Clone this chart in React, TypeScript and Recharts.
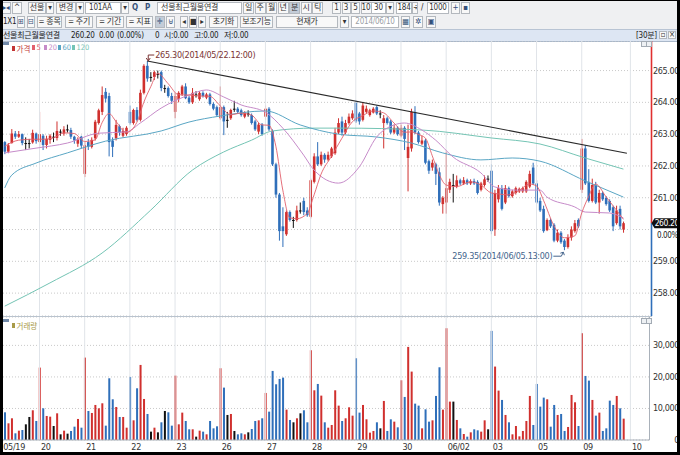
import React from "react";
import {
  Bar,
  CartesianGrid,
  ComposedChart,
  Line,
  ReferenceDot,
  ReferenceLine,
  XAxis,
  YAxis,
} from "recharts";

const UP = "#d0302e";
const DOWN = "#2f6fba";
const FLAT = "#111111";
const UI_FONT =
  "'Liberation Sans Narrow','DejaVu Sans Condensed','Liberation Sans','Noto Sans CJK KR',sans-serif";

// 30-minute bars, [open, high, low, close], one array per trading day
const D0519 = [
  [262.75, 262.78, 262.37, 262.45], [262.45, 262.72, 262.4, 262.65], [262.72, 263.16, 262.7, 263.02],
  [263.02, 263.1, 262.85, 262.92], [262.92, 263.1, 262.88, 263.0], [263.0, 263.02, 262.65, 262.72],
  [262.72, 262.9, 262.5, 262.72], [262.72, 262.85, 262.55, 262.72], [262.74, 263.14, 262.7, 263.04],
  [263.02, 263.05, 262.7, 262.78],
];
const D0520 = [
  [262.75, 263.7, 262.6, 263.0], [262.95, 263.0, 262.5, 262.66], [262.66, 262.95, 262.55, 262.85],
  [262.82, 263.0, 262.7, 262.95], [262.92, 263.05, 262.75, 262.92], [262.88, 263.4, 262.8, 263.1],
  [263.08, 263.15, 262.95, 263.08], [263.02, 263.25, 262.95, 263.15], [263.15, 263.3, 263.05, 263.15],
  [263.13, 263.2, 262.85, 262.92], [262.92, 262.95, 262.7, 262.8], [262.7, 262.9, 262.6, 262.85],
  [262.92, 262.95, 262.55, 262.64],
];
const D0521 = [
  [261.75, 262.75, 261.65, 262.65], [262.75, 262.85, 262.5, 262.6], [262.6, 262.9, 262.55, 262.82],
  [262.87, 263.45, 262.8, 263.39], [263.35, 263.8, 263.3, 263.75], [263.7, 264.5, 263.6, 264.23],
  [264.33, 264.45, 264.0, 264.12], [264.2, 264.3, 262.3, 262.75], [262.8, 262.9, 262.28, 262.6],
  [262.87, 263.45, 262.8, 263.29], [263.25, 263.3, 262.95, 263.05], [262.95, 263.2, 262.9, 263.1],
  [263.0, 263.25, 262.95, 263.2],
];
const D0522 = [
  [263.7, 263.9, 263.3, 263.35], [263.35, 263.8, 263.3, 263.76], [263.76, 263.85, 263.4, 263.45],
  [263.45, 264.4, 263.4, 264.3], [264.3, 265.2, 264.25, 265.15], [265.15, 265.3, 264.65, 264.75],
  [264.8, 264.95, 264.65, 264.8], [264.8, 265.0, 264.7, 264.95], [264.9, 265.0, 264.75, 264.9],
  [264.95, 265.0, 264.35, 264.45], [264.45, 264.55, 264.3, 264.45], [264.45, 264.5, 264.15, 264.2],
  [264.2, 264.3, 263.95, 264.05],
];
const D0523 = [
  [263.7, 264.3, 263.5, 264.2], [264.1, 264.35, 264.0, 264.3], [264.25, 264.55, 264.2, 264.5],
  [264.5, 264.6, 264.1, 264.13], [264.15, 264.2, 263.95, 264.0], [264.0, 264.45, 263.95, 264.3],
  [264.25, 264.35, 264.15, 264.25], [264.1, 264.35, 264.05, 264.3], [264.3, 264.35, 264.15, 264.2],
  [264.15, 264.3, 264.1, 264.25], [264.25, 264.3, 263.9, 263.95], [263.95, 264.0, 263.75, 263.8],
  [263.85, 263.9, 263.55, 263.6],
];
const D0526 = [
  [263.5, 264.5, 263.45, 263.85], [263.85, 263.9, 262.97, 263.4], [263.45, 263.7, 263.2, 263.45],
  [263.5, 263.8, 263.45, 263.76], [263.8, 264.05, 263.7, 263.8], [263.8, 263.85, 263.65, 263.7],
  [263.75, 263.8, 263.55, 263.6], [263.55, 263.72, 263.5, 263.68], [263.65, 263.75, 263.55, 263.65],
  [263.6, 263.65, 263.3, 263.35], [263.4, 263.45, 263.1, 263.15], [263.08, 263.35, 263.0, 263.3],
  [263.3, 263.35, 262.95, 263.0],
];
const D0527 = [
  [263.55, 263.9, 263.45, 263.8], [263.8, 263.85, 263.1, 263.15], [263.1, 263.15, 262.0, 262.05],
  [262.05, 262.1, 261.0, 261.1], [261.1, 261.15, 259.65, 259.95], [260.1, 260.7, 259.45, 259.95],
  [259.85, 260.6, 259.8, 260.55], [260.55, 260.6, 260.25, 260.3], [260.3, 260.4, 260.05, 260.3],
  [260.3, 260.75, 260.25, 260.6], [260.6, 260.85, 260.5, 260.6], [260.9, 261.0, 260.45, 260.55],
  [260.6, 260.7, 260.4, 260.45],
];
const D0528 = [
  [260.4, 261.6, 260.35, 261.55], [261.5, 262.4, 261.45, 262.3], [262.3, 262.75, 262.0, 262.05],
  [262.05, 262.45, 262.0, 262.35], [262.35, 262.4, 262.1, 262.2], [262.2, 262.45, 262.15, 262.35],
  [262.3, 262.6, 262.25, 262.55], [262.4, 263.2, 262.35, 263.05], [263.05, 263.5, 263.0, 263.35],
  [263.4, 263.55, 262.95, 263.05], [263.05, 263.45, 263.0, 263.35], [263.35, 263.65, 263.3, 263.55],
  [263.5, 263.75, 263.45, 263.65],
];
const D0529 = [
  [263.98, 264.05, 263.35, 263.4], [263.65, 263.7, 263.3, 263.4], [263.45, 264.0, 263.4, 263.9],
  [263.7, 263.9, 263.65, 263.8], [263.6, 263.8, 263.55, 263.75], [263.68, 263.85, 263.65, 263.8],
  [263.85, 263.9, 263.6, 263.65], [263.65, 263.75, 263.5, 263.65], [263.35, 263.6, 262.55, 263.5],
  [263.5, 263.55, 263.3, 263.35], [263.4, 263.45, 263.0, 263.05], [263.05, 263.3, 263.0, 263.2],
  [263.2, 263.25, 262.95, 263.0],
];
const D0530 = [
  [262.95, 263.3, 262.9, 263.2], [263.2, 263.25, 262.5, 262.85], [262.25, 263.3, 261.2, 262.6],
  [262.55, 263.8, 262.45, 263.7], [263.7, 263.88, 263.0, 263.05], [263.05, 263.1, 262.7, 262.75],
  [262.7, 262.95, 262.65, 262.8], [262.8, 262.85, 262.05, 262.1], [262.15, 262.2, 261.75, 261.85],
  [261.95, 262.2, 261.85, 262.1], [262.05, 262.1, 261.4, 261.75], [261.8, 261.95, 260.75, 260.85],
  [260.8, 261.05, 260.5, 261.0],
];
const D0602 = [
  [260.85, 262.45, 260.5, 261.3], [261.25, 261.6, 261.15, 261.5], [261.4, 261.75, 260.85, 261.4],
  [261.35, 261.7, 261.3, 261.55], [261.55, 261.6, 261.4, 261.45], [261.45, 261.65, 261.4, 261.55],
  [261.55, 261.6, 261.4, 261.45], [261.45, 261.58, 261.4, 261.52], [261.52, 261.6, 261.4, 261.45],
  [261.5, 261.55, 261.1, 261.15], [261.25, 261.5, 261.2, 261.45], [261.4, 261.7, 261.35, 261.58],
  [261.6, 261.7, 261.5, 261.6],
];
const D0603 = [
  [261.85, 262.05, 259.85, 259.95], [260.0, 261.25, 259.8, 261.15], [260.95, 261.4, 260.85, 261.3],
  [261.3, 261.4, 260.6, 260.65], [260.85, 261.4, 260.8, 261.3], [261.3, 261.35, 261.0, 261.05],
  [261.05, 261.25, 261.0, 261.2], [261.15, 261.35, 261.1, 261.3], [261.2, 261.32, 261.15, 261.28],
  [261.2, 261.35, 261.15, 261.3], [261.2, 261.55, 261.15, 261.5], [261.35, 261.85, 261.3, 261.75],
  [261.95, 262.1, 261.4, 261.45],
];
const D0605 = [
  [261.45, 261.55, 260.8, 260.85], [260.9, 261.0, 260.55, 260.6], [260.65, 260.75, 259.9, 259.95],
  [259.98, 260.35, 259.95, 260.3], [260.3, 260.35, 260.05, 260.1], [260.15, 260.2, 259.6, 259.65],
  [259.65, 260.0, 259.6, 259.9], [259.9, 259.95, 259.55, 259.6], [259.65, 259.7, 259.35, 259.45],
  [259.45, 259.85, 259.4, 259.75], [259.75, 260.1, 259.65, 260.0], [259.95, 260.3, 259.9, 260.2],
  [260.3, 260.35, 260.05, 260.1],
];
const D0609 = [
  [261.25, 262.85, 261.15, 262.55], [262.55, 262.65, 261.4, 261.45], [261.5, 261.9, 260.85, 260.9],
  [260.9, 261.6, 260.85, 261.4], [261.4, 261.5, 260.8, 260.85], [260.85, 261.25, 260.5, 261.15],
  [261.15, 261.2, 260.9, 260.95], [261.0, 261.05, 260.75, 260.8], [260.9, 260.95, 260.55, 260.6],
  [260.7, 260.75, 259.95, 260.1], [260.2, 260.75, 260.15, 260.6], [260.65, 260.75, 260.0, 260.1],
  [260.0, 260.25, 259.9, 260.2],
];

// contracts per bar
const V0519 = [8780, 5290, 6880, 2120, 2960, 3170, 4970, 7300, 9420, 6030];
const V0520 = [22960, 10050, 7620, 7400, 4440, 8460, 1800, 2960, 2010, 2860, 4230, 6670, 3910];
const V0521 = [26130, 9200, 8570, 11110, 10050, 11640, 4550, 19570, 12910, 10470, 7300, 7300, 3910];
const V0522 = [20000, 6240, 16400, 23800, 13010, 8250, 2650, 3910, 2430, 5610, 9200, 8780, 4550];
const V0523 = [20420, 4970, 8680, 6030, 3390, 3390, 1060, 2960, 2650, 1800, 6030, 3700, 4340];
const V0526 = [22750, 16610, 7940, 8250, 2860, 1800, 2120, 1800, 2430, 3490, 6030, 6240, 6880];
const V0527 = [14920, 8990, 21900, 17670, 19360, 19780, 9630, 6350, 5610, 6880, 8460, 9420, 5610];
const V0528 = [28460, 15760, 17770, 14070, 5610, 3910, 4760, 15760, 10900, 6030, 6880, 10370, 7720];
const V0529 = [25920, 8680, 11110, 6560, 2330, 2860, 5610, 3700, 12380, 2860, 6560, 5820, 4020];
const V0530 = [18940, 13650, 29520, 21690, 11530, 10900, 3700, 9730, 5820, 6240, 13970, 23060, 9630];
const V0602 = [35440, 12170, 12170, 6350, 3700, 1900, 1060, 2430, 3390, 3070, 2650, 6240, 3390];
const V0603 = [34600, 23280, 15660, 12700, 7940, 5610, 1800, 4440, 1160, 2860, 6030, 13970, 4760];
const V0605 = [17770, 10580, 13440, 12910, 4230, 11110, 7940, 8250, 2860, 4130, 14280, 11960, 4440];
const V0609 = [33860, 20310, 18830, 12700, 7720, 8680, 2860, 3700, 12480, 11110, 13970, 10050, 6770];

// moving averages, [bar index, value]
const MA5 = [
  [0, 262.62], [4, 262.81], [8, 262.84], [11, 262.84], [14, 262.88], [17, 263.04], [20, 263.02],
  [23, 262.77], [26, 262.82], [28, 263.36], [30, 263.65], [32, 263.4], [35, 263.05], [38, 263.37],
  [40, 264.0], [42, 264.49], [44, 264.91], [47, 264.59], [50, 264.24], [53, 264.23], [56, 264.2],
  [59, 264.19], [62, 263.89], [65, 263.61], [68, 263.66], [71, 263.6], [74, 263.29], [76, 263.28],
  [78, 262.62], [80, 261.24], [82, 260.37], [84, 260.34], [87, 260.5], [89, 261.09], [91, 261.74],
  [94, 262.3], [97, 262.87], [100, 263.39], [103, 263.58], [106, 263.73], [109, 263.67],
  [112, 263.35], [115, 263.06], [117, 263.07], [119, 262.99], [121, 262.88], [123, 262.32],
  [125, 261.73], [127, 261.4], [130, 261.35], [134, 261.5], [137, 261.4], [140, 261.15],
  [142, 261.12], [145, 261.09], [148, 261.23], [151, 261.43], [153, 261.37], [155, 260.92],
  [158, 260.12], [161, 259.74], [164, 259.8], [166, 260.52], [168, 261.04], [170, 261.43],
  [173, 261.03], [176, 260.61], [178, 260.32],
];
const MA20 = [
  [0, 262.41], [9, 262.56], [18, 262.72], [27, 263.03], [35, 263.07], [39, 263.35], [45, 263.82],
  [53, 264.23], [58, 264.39], [63, 264.17], [68, 263.92], [75, 263.69], [80, 263.19], [86, 262.34],
  [89, 261.87], [96, 261.46], [102, 261.97], [107, 262.91], [112, 263.29], [115, 263.35],
  [120, 263.13], [124, 262.81], [129, 262.28], [137, 261.78], [141, 261.34], [147, 261.24],
  [154, 261.24], [156, 261.02], [164, 260.71], [167, 260.55], [174, 260.52], [178, 260.36],
];
const MA60 = [
  [0, 261.31], [2, 261.71], [9, 262.09], [18, 262.41], [29, 262.78], [45, 263.1], [53, 263.38],
  [62, 263.57], [75, 263.73], [85, 263.29], [96, 263.0], [107, 262.91], [117, 262.72],
  [126, 262.41], [137, 262.19], [146, 262.25], [154, 262.15], [167, 261.53], [178, 261.02],
];
const MA120 = [
  [0, 257.59], [13, 258.32], [28, 259.26], [42, 260.61], [54, 261.87], [63, 262.44], [71, 262.81],
  [77, 263.1], [89, 263.19], [97, 263.19], [120, 263.13], [140, 262.88], [154, 262.69],
  [167, 262.25], [178, 261.9],
];

const DAY_STARTS = [0, 10, 23, 36, 49, 62, 75, 88, 101, 114, 127, 140, 153, 166, 180];
const DAY_LABELS = ["05/19", "20", "21", "22", "23", "26", "27", "28", "29", "30", "06/02", "03", "05", "09", "10"];
const PRICE_TICKS = [258, 259, 260, 261, 262, 263, 264, 265];
const VOLUME_TICKS = [0, 10000, 20000, 30000];
const PRICE_DOMAIN: [number, number] = [257.28, 265.93];
const VOLUME_DOMAIN: [number, number] = [0, 39000];
const CURRENT = 260.2;
const HIGH_MARK = { i: 41, price: 265.3, text: "265.30(2014/05/22.12:00)" };
const LOW_MARK = { i: 161, price: 259.35, text: "259.35(2014/06/05.13:00)" };
const TREND = [
  { x: 41, y: 265.3 },
  { x: 179, y: 262.4 },
];

const MA_COLORS = { ma5: "#e2606c", ma20: "#c68bc9", ma60: "#5aa6c4", ma120: "#74c4b4" };
const SLOTS = 186;
const PRICE_H = 275;

const CANDLES = [
  ...D0519, ...D0520, ...D0521, ...D0522, ...D0523, ...D0526, ...D0527,
  ...D0528, ...D0529, ...D0530, ...D0602, ...D0603, ...D0605, ...D0609,
];
const VOLUMES = [
  ...V0519, ...V0520, ...V0521, ...V0522, ...V0523, ...V0526, ...V0527,
  ...V0528, ...V0529, ...V0530, ...V0602, ...V0603, ...V0605, ...V0609,
];

function lookup(pairs: number[][]) {
  const m = new Map(pairs.map(([i, v]) => [i, v]));
  return (i: number) => (m.has(i) ? (m.get(i) as number) : null);
}
const ma5 = lookup(MA5);
const ma20 = lookup(MA20);
const ma60 = lookup(MA60);
const ma120 = lookup(MA120);

const ROWS = Array.from({ length: SLOTS }, (_, i) => {
  const k = CANDLES[i];
  return {
    i,
    o: k ? k[0] : null,
    h: k ? k[1] : null,
    l: k ? k[2] : null,
    c: k ? k[3] : null,
    range: k ? [k[2], k[1]] : null,
    vol: VOLUMES[i] ?? null,
    ma5: ma5(i),
    ma20: ma20(i),
    ma60: ma60(i),
    ma120: ma120(i),
  };
});

const tone = (o: number, c: number) => (c > o ? UP : c < o ? DOWN : FLAT);

function Candle(props: any) {
  const { x, y, width, height, payload } = props;
  if (!payload || payload.o == null || !Number.isFinite(y)) return null;
  const { o, h, l, c } = payload;
  const top = Math.min(y, y + height);
  const span = Math.abs(height);
  const toY = (p: number) => top + ((h - p) / (h - l)) * span;
  const color = tone(o, c);
  const cx = x + width / 2;
  const bodyTop = toY(Math.max(o, c));
  const bodyH = Math.max(1, toY(Math.min(o, c)) - bodyTop);
  return (
    <g>
      <line x1={cx} x2={cx} y1={top} y2={top + span} stroke={color} strokeWidth={1} />
      <rect x={cx - 1.3} y={bodyTop} width={2.6} height={bodyH} fill={color} />
    </g>
  );
}

function VolumeBar(props: any) {
  const { x, y, width, height, payload } = props;
  if (!payload || payload.vol == null || !Number.isFinite(y)) return null;
  return <rect x={x} y={y} width={width} height={height} fill={tone(payload.o, payload.c)} />;
}

// the current-price flag covers the nearest price label, as in the original
function PriceTick({ y, payload }: any) {
  if (Math.abs(payload.value - CURRENT) < 0.5) return null;
  return (
    <text x={679} y={y + 3} textAnchor="end" fontSize={9} letterSpacing={-0.4} fill="#333" fontFamily={UI_FONT}>
      {payload.value.toFixed(2)}
    </text>
  );
}

function VolumeTick({ y, payload }: any) {
  return (
    <text x={679} y={y + 3} textAnchor="end" fontSize={9} letterSpacing={-0.4} fill="#333" fontFamily={UI_FONT}>
      {payload.value.toLocaleString("en-US")}
    </text>
  );
}

function DayTick({ x, y, payload }: any) {
  const idx = DAY_STARTS.indexOf(payload.value);
  return (
    <text x={x + (idx === 0 ? -1.5 : 1.5)} y={y + 10} fontSize={9} letterSpacing={-0.3} fill="#333" fontFamily={UI_FONT}>
      {DAY_LABELS[idx]}
    </text>
  );
}

function CurrentPrice({ viewBox }: any) {
  if (!viewBox) return null;
  const { x, y, width } = viewBox;
  const ax = x + width + 2;
  return (
    <g fontFamily={UI_FONT} letterSpacing={-0.4}>
      <line x1={ax} x2={ax} y1={0} y2={y} stroke="#e03030" strokeWidth={1.6} />
      <line x1={ax} x2={ax} y1={y} y2={PRICE_H} stroke={DOWN} strokeWidth={1.6} />
      <path d={`M${ax},${y} L${ax + 3},${y - 5} H680 V${y + 5} H${ax + 3} Z`} fill="#111" />
      <text x={679} y={y + 3.2} textAnchor="end" fontSize={8.5} fill="#fff">
        {CURRENT.toFixed(2)}
      </text>
      <text x={657} y={y + 14.5} fontSize={8} fill="#222">
        0.00%
      </text>
    </g>
  );
}

function HighNote({ cx, cy }: any) {
  const col = "#7a3434";
  return (
    <g fontFamily={UI_FONT} fontSize={9} letterSpacing={-0.3}>
      <path d={`M${cx + 7},${cy - 6} H${cx + 1} V${cy - 1}`} stroke={col} fill="none" />
      <path d={`M${cx - 1},${cy - 3} L${cx + 1},${cy} L${cx + 3},${cy - 3}`} stroke={col} fill="none" />
      <text x={cx + 8} y={cy - 3} fill={col}>
        {HIGH_MARK.text}
      </text>
    </g>
  );
}

function LowNote({ cx, cy }: any) {
  const col = "#44648c";
  return (
    <g fontFamily={UI_FONT} fontSize={9} letterSpacing={-0.3}>
      <path d={`M${cx - 11},${cy + 6} H${cx - 3} L${cx - 1},${cy + 2}`} stroke={col} fill="none" />
      <path d={`M${cx - 4},${cy + 3} L${cx - 1},${cy + 2} L${cx},${cy + 5}`} stroke={col} fill="none" />
      <text x={cx - 12} y={cy + 9} textAnchor="end" fill={col}>
        {LOW_MARK.text}
      </text>
    </g>
  );
}

function PricePane() {
  return (
    <ComposedChart width={680} height={PRICE_H} data={ROWS} margin={{ top: 0, right: 0, bottom: 0, left: 3 }}>
      <XAxis dataKey="i" type="category" hide />
      <YAxis
        orientation="right"
        type="number"
        width={30.5}
        domain={PRICE_DOMAIN}
        allowDataOverflow
        ticks={PRICE_TICKS}
        tick={<PriceTick />}
        axisLine={false}
        tickLine={false}
      />
      <CartesianGrid vertical={false} stroke="#c9c9c9" strokeDasharray="1 2" />
      {DAY_STARTS.slice(1).map((d) => (
        <ReferenceLine key={d} x={d} stroke="#e0e4e9" />
      ))}
      <Line dataKey="ma120" type="monotone" stroke={MA_COLORS.ma120} dot={false} activeDot={false} connectNulls isAnimationActive={false} />
      <Line dataKey="ma60" type="monotone" stroke={MA_COLORS.ma60} dot={false} activeDot={false} connectNulls isAnimationActive={false} />
      <Line dataKey="ma20" type="monotone" stroke={MA_COLORS.ma20} dot={false} activeDot={false} connectNulls isAnimationActive={false} />
      <Bar dataKey="range" shape={<Candle />} isAnimationActive={false} />
      <Line dataKey="ma5" type="monotone" stroke={MA_COLORS.ma5} strokeWidth={0.9} dot={false} activeDot={false} connectNulls isAnimationActive={false} />
      <ReferenceLine segment={TREND} stroke="#2a2a2a" strokeWidth={1.2} ifOverflow="visible" />
      <ReferenceLine y={CURRENT} stroke="none" label={<CurrentPrice />} />
      <ReferenceDot x={HIGH_MARK.i} y={HIGH_MARK.price} r={0} shape={<HighNote />} />
      <ReferenceDot x={LOW_MARK.i} y={LOW_MARK.price} r={0} shape={<LowNote />} />
    </ComposedChart>
  );
}

function VolumePane() {
  return (
    <ComposedChart width={680} height={135} data={ROWS} margin={{ top: 0, right: 0, bottom: 0, left: 3 }}>
      <XAxis
        dataKey="i"
        type="category"
        height={12}
        ticks={DAY_STARTS}
        interval={0}
        tick={<DayTick />}
        tickSize={0}
        tickMargin={0}
        tickLine={false}
        axisLine={{ stroke: "#a9b1ba" }}
      />
      <YAxis
        orientation="right"
        type="number"
        width={30.5}
        domain={VOLUME_DOMAIN}
        allowDataOverflow
        ticks={VOLUME_TICKS}
        tick={<VolumeTick />}
        axisLine={{ stroke: "#a9b1ba" }}
        tickLine={false}
      />
      <CartesianGrid vertical={false} stroke="#c9c9c9" strokeDasharray="1 2" />
      {DAY_STARTS.slice(1).map((d) => (
        <ReferenceLine key={d} x={d} stroke="#e0e4e9" />
      ))}
      <Bar dataKey="vol" barSize={2} shape={<VolumeBar />} isAnimationActive={false} />
    </ComposedChart>
  );
}

function Btn({ x, y, w, h = 12, children, bg = "#f8f8f8", color = "#333", left = false, border = "#b3b8be" }: any) {
  return (
    <div
      style={{
        position: "absolute",
        left: x,
        top: y,
        width: w,
        height: h,
        boxSizing: "border-box",
        border: `1px solid ${border}`,
        background: bg,
        color,
        fontSize: 8,
        letterSpacing: -0.2,
        lineHeight: `${h - 2}px`,
        textAlign: left ? "left" : "center",
        paddingLeft: left ? 3 : 0,
        whiteSpace: "nowrap",
        overflow: "hidden",
      }}
    >
      {children}
    </div>
  );
}

function Txt({ x, y, children, color = "#222", size = 8, bold = false }: any) {
  return (
    <div
      style={{
        position: "absolute",
        left: x,
        top: y,
        fontSize: size,
        letterSpacing: -0.25,
        color,
        fontWeight: bold ? 700 : 400,
        whiteSpace: "nowrap",
        lineHeight: "11px",
      }}
    >
      {children}
    </div>
  );
}

function Toolbar() {
  const periods = ["일", "주", "월", "년", "분", "시", "틱"];
  const mins = ["1", "3", "5", "10"];
  return (
    <>
      <div style={{ position: "absolute", left: 0, top: 0, width: 680, height: 29, background: "#eff0f2" }} />
      <Btn x={1} y={2} w={10} color="#35507a">▸◂</Btn>
      <Btn x={12} y={2} w={10}>^</Btn>
      <Btn x={28} y={2} w={18}>선물</Btn>
      <Btn x={46} y={2} w={8}>▾</Btn>
      <Btn x={56} y={2} w={20}>변경</Btn>
      <Btn x={76} y={2} w={8}>▾</Btn>
      <Btn x={85} y={2} w={36} bg="#fff" left>101AA</Btn>
      <Btn x={121} y={2} w={8}>▾</Btn>
      <Txt x={132} y={2} bold color="#35507a">Q</Txt>
      <Txt x={145} y={2} bold color="#35507a">P</Txt>
      <Btn x={157} y={2} w={85} bg="#fff" left>선물최근월물연결</Btn>
      {periods.map((p, k) => (
        <Btn key={p} x={243 + k * 11.5} y={2} w={11} bg={p === "분" ? "#c3ccd8" : "#f8f8f8"}>
          {p}
        </Btn>
      ))}
      {mins.map((m, k) => (
        <Btn key={m} x={332 + k * 9.5} y={2} w={m === "10" ? 11 : 9}>
          {m}
        </Btn>
      ))}
      <Btn x={371} y={2} w={15} bg="#fff">30</Btn>
      <Btn x={386} y={2} w={8}>▾</Btn>
      <Btn x={396} y={2} w={16} bg="#fff">184</Btn>
      <Btn x={412} y={2} w={6}>÷</Btn>
      <Txt x={421} y={2}>/</Txt>
      <Btn x={427} y={2} w={22} bg="#fff">1000</Btn>
      <Btn x={451} y={2} w={9} color="#35507a">+</Btn>
      <Btn x={461} y={2} w={9} color="#35507a">▪</Btn>

      <Txt x={3} y={16}>1X1</Txt>
      <Btn x={17} y={16} w={8} color="#35507a">⊞</Btn>
      <Btn x={27} y={16} w={8} color="#35507a">⊟</Btn>
      <Btn x={37} y={16} w={25}>= 종목</Btn>
      <Btn x={65} y={16} w={28}>= 주기</Btn>
      <Btn x={96} y={16} w={28}>= 기간</Btn>
      <Btn x={126} y={16} w={27}>= 지표</Btn>
      <Btn x={155} y={16} w={10} bg="#c3ccd8" color="#35507a">✛</Btn>
      <Btn x={166} y={16} w={9} color="#35507a">⊎</Btn>
      <Btn x={180} y={16} w={8}>◂</Btn>
      <Btn x={189} y={16} w={8}>■</Btn>
      <Btn x={198} y={16} w={8}>▸</Btn>
      <Btn x={209} y={16} w={29}>초기화</Btn>
      <Btn x={240} y={16} w={33}>보조기능</Btn>
      <Btn x={276} y={16} w={62}>현재가</Btn>
      <Btn x={340} y={16} w={9}>▾</Btn>
      <Btn x={351} y={16} w={48} bg="#fff" color="#9aa0a6">2014/06/10</Btn>
      <Btn x={401} y={16} w={9} color="#35507a">▦</Btn>
      <Btn x={413} y={16} w={10} color="#35507a">✲</Btn>
      <Btn x={426} y={16} w={10} color="#35507a">▣</Btn>

      <div
        style={{
          position: "absolute",
          left: 0,
          top: 29,
          width: 680,
          height: 11,
          background: "#dde6f3",
          borderTop: "1px solid #b8c4d4",
          borderBottom: "1px solid #a9b7c9",
        }}
      />
      <Txt x={3} y={30}>선물최근월물연결</Txt>
      <Txt x={71} y={30}>260.20</Txt>
      <Txt x={99} y={30}>0.00</Txt>
      <Txt x={117} y={30}>(0.00%)</Txt>
      <Txt x={155} y={30}>0</Txt>
      <Txt x={164} y={30}>시:0.00</Txt>
      <Txt x={194} y={30}>고:0.00</Txt>
      <Txt x={224} y={30}>저:0.00</Txt>
      <Txt x={636} y={30}>[30분]</Txt>
      <Btn x={659} y={31} w={8} h={8}>▫</Btn>
      <Btn x={668} y={31} w={8} h={8}>×</Btn>
    </>
  );
}

function LegendItem({ x, y, color, text }: any) {
  return (
    <div style={{ position: "absolute", left: x, top: y, display: "flex", alignItems: "center", fontSize: 7.5, color, whiteSpace: "nowrap" }}>
      <span style={{ display: "inline-block", width: 3, height: 5, background: color, marginRight: 1.5 }} />
      {text}
    </div>
  );
}

function PaneIcons({ y }: { y: number }) {
  return (
    <>
      <div style={{ position: "absolute", left: 3, top: y + 1, width: 6, height: 3, background: "#7189a8" }} />
      <div style={{ position: "absolute", left: 641, top: y, width: 4, height: 4, border: "1px solid #a3abb4", background: "#eef1f4" }} />
      <div style={{ position: "absolute", left: 646, top: y, width: 4, height: 4, border: "1px solid #a3abb4", background: "#eef1f4" }} />
    </>
  );
}

export default function App() {
  return (
    <div style={{ position: "relative", width: 680, height: 455, overflow: "hidden", background: "#fff", fontFamily: UI_FONT }}>
      <style>{"body{margin:0}"}</style>
      <Toolbar />
      <div style={{ position: "absolute", left: 0, top: 41 }}>
        <PricePane />
      </div>
      <div style={{ position: "absolute", left: 0, top: 316, width: 652, height: 1, background: "#b9c3ce" }} />
      <div style={{ position: "absolute", left: 0, top: 317 }}>
        <VolumePane />
      </div>
      <PaneIcons y={41} />
      <PaneIcons y={318} />
      <LegendItem x={12} y={43} color="#c23434" text="가격" />
      <LegendItem x={32} y={43} color={MA_COLORS.ma5} text="5" />
      <LegendItem x={44} y={43} color={MA_COLORS.ma20} text="20" />
      <LegendItem x={58} y={43} color={MA_COLORS.ma60} text="60" />
      <LegendItem x={72} y={43} color={MA_COLORS.ma120} text="120" />
      <LegendItem x={12} y={320} color="#a89a48" text="거래량" />
      <div
        style={{
          position: "absolute",
          inset: 0,
          boxSizing: "border-box",
          borderStyle: "solid",
          borderColor: "#000",
          borderWidth: "1px 3px 3px 3px",
          pointerEvents: "none",
        }}
      />
    </div>
  );
}
